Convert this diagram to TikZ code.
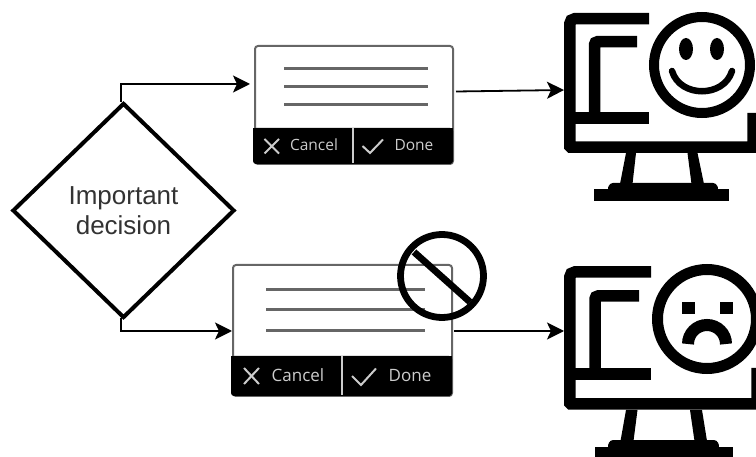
\documentclass[tikz,border=0pt]{standalone}
\usepackage{fontspec}
\setmainfont{Liberation Sans}
\newfontfamily\dialogfont{Open Sans}
\usetikzlibrary{arrows.meta,shapes.geometric}
\definecolor{textgray}{HTML}{333333}
\definecolor{framegray}{HTML}{666666}
\definecolor{labelgray}{HTML}{CCCCCC}
\tikzset{
  flow/.style={draw=black, line width=1.8pt, -{Stealth[length=17pt,width=17pt,inset=4pt]}},
  decisionbox/.style={diamond, draw=black, line width=4pt, fill=white, inner sep=0pt, align=center,
    minimum width=222pt, minimum height=215pt, text=textgray, font=\fontsize{26}{30}\selectfont},
  dialogbox/.style={rectangle, draw=framegray, line width=2pt, rounded corners=3pt, inner sep=0pt, anchor=north west},
  textline/.style={draw=framegray, line width=3pt},
  dialogicon/.style={draw=labelgray, line width=2pt},
  dialoglabel/.style={text=labelgray, inner sep=0pt, anchor=base},
  screen/.style={draw=black, line width=11.5pt},
  solidpart/.style={fill=black, draw=none},
}
\begin{document}
\begin{tikzpicture}[x=1pt, y=-1pt]
\clip (0,0) rectangle (756,457);
\node [decisionbox] (decision) at (123.5,210.5) {Important\\decision};
\node [dialogbox, minimum width=198pt, minimum height=118pt] (okdialog) at (254,45) {};
\node [dialogbox, minimum width=219pt, minimum height=131pt] (nodialog) at (232,264) {};
\coordinate (okin) at (250,84);
\coordinate (noin) at (232,331);
\coordinate (okout) at (456,91.5);
\coordinate (noout) at (454,331);
\coordinate (happy) at (564,90);
\coordinate (sad) at (564,331);
% first dialog
\fill [black, rounded corners=3pt] (253,128) -- (453,128) -- (453,164) -- (253,164) -- cycle;
\fill [black] (253,128) rectangle (453,140);
\foreach \y in {68.5,86.5,104.5} \draw [textline] (284,\y) -- (428,\y);
\draw [labelgray, line width=1.6pt] (353,128) -- (353,163);
\draw [dialogicon] (264.5,139) -- (279,153.5) (279,139) -- (264.5,153.5);
\draw [dialogicon] (362.5,146) -- (370,153) -- (383,139.5);
\node [dialoglabel, font=\dialogfont\fontsize{15.5}{18}\selectfont] (okcancel) at (314,151) {Cancel};
\node [dialoglabel, font=\dialogfont\fontsize{15.5}{18}\selectfont] (okdone) at (414,151) {Done};
% second dialog
\fill [black, rounded corners=3pt] (231,356) -- (452,356) -- (452,396) -- (231,396) -- cycle;
\fill [black] (231,356) rectangle (452,368);
\foreach \y in {289.5,309.5,330.5} \draw [textline] (266,\y) -- (425,\y);
\draw [labelgray, line width=1.6pt] (342,356) -- (342,395);
\draw [dialogicon] (244,368) -- (259,384) (259,368) -- (244,384);
\draw [dialogicon] (352,376) -- (361,385) -- (376,368.5);
\node [dialoglabel, font=\dialogfont\fontsize{17}{20}\selectfont] (nocancel) at (298,382) {Cancel};
\node [dialoglabel, font=\dialogfont\fontsize{17}{20}\selectfont] (nodone) at (410,382) {Done};
\draw [black, line width=6.8pt] (442,276) circle [radius=41.5];
\draw [black, line width=6.8pt] (414,252) -- (470,302);
% arrows
\draw [flow] (121,102) |- (okin);
\draw [flow] (121,318) |- (noin);
\draw [flow] (okout) -- (happy);
\draw [flow] (noout) -- (sad);
% happy monitor
\draw [screen, rounded corners=5pt] (649,18.75) -- (569.75,18.75) [rounded corners=1pt] -- (569.75,147.25) [sharp corners] -- (753,147.25) -- (753,113);
\draw [screen, rounded corners=3pt] (637,41.75) -- (594.5,41.75) -- (594.5,118);
\fill [black] (564,112.5) rectangle (649,124);
\fill [solidpart] (626,153) -- (636,153) -- (632.5,184) -- (620,184) -- cycle;
\fill [solidpart] (687.5,153) -- (697.5,153) -- (704,184) -- (691.5,184) -- cycle;
\fill [solidpart, rounded corners=3pt] (607,190) -- (610,183) -- (716,183) -- (719,190) -- cycle;
\fill [solidpart] (594,189) rectangle (729,201);
\draw [black, line width=10pt] (702,65) circle [radius=48];
\fill [black] (686,49) ellipse [x radius=7, y radius=11];
\fill [black] (717,49) ellipse [x radius=7, y radius=11];
\draw [black, line width=6.5pt, line cap=round] (672,71) .. controls (680,98) and (724,98) .. (732,71);
% sad monitor
\draw [screen, rounded corners=5pt] (651,272) -- (569.75,272) [rounded corners=1pt] -- (569.75,404) [sharp corners] -- (757,404) -- (757,368);
\draw [screen, rounded corners=3pt] (639,296) -- (595,296) -- (595,374);
\fill [black] (564,368) rectangle (651,380);
\fill [solidpart] (626,410) -- (637.5,410) -- (633.5,441) -- (620.5,441) -- cycle;
\fill [solidpart] (690,410) -- (702,410) -- (707,441) -- (694.5,441) -- cycle;
\fill [solidpart, rounded corners=3pt] (607,448) -- (610,440) -- (717,440) -- (720,448) -- cycle;
\fill [solidpart] (595,447) rectangle (733,459);
\draw [black, line width=11pt] (707,319) circle [radius=49.5];
\fill [black] (682,302) rectangle (695,314);
\fill [black] (720,302) rectangle (733,314);
\draw [black, line width=12pt] (688,344) arc [start angle=180, end angle=360, radius=19];
\end{tikzpicture}
\end{document}
